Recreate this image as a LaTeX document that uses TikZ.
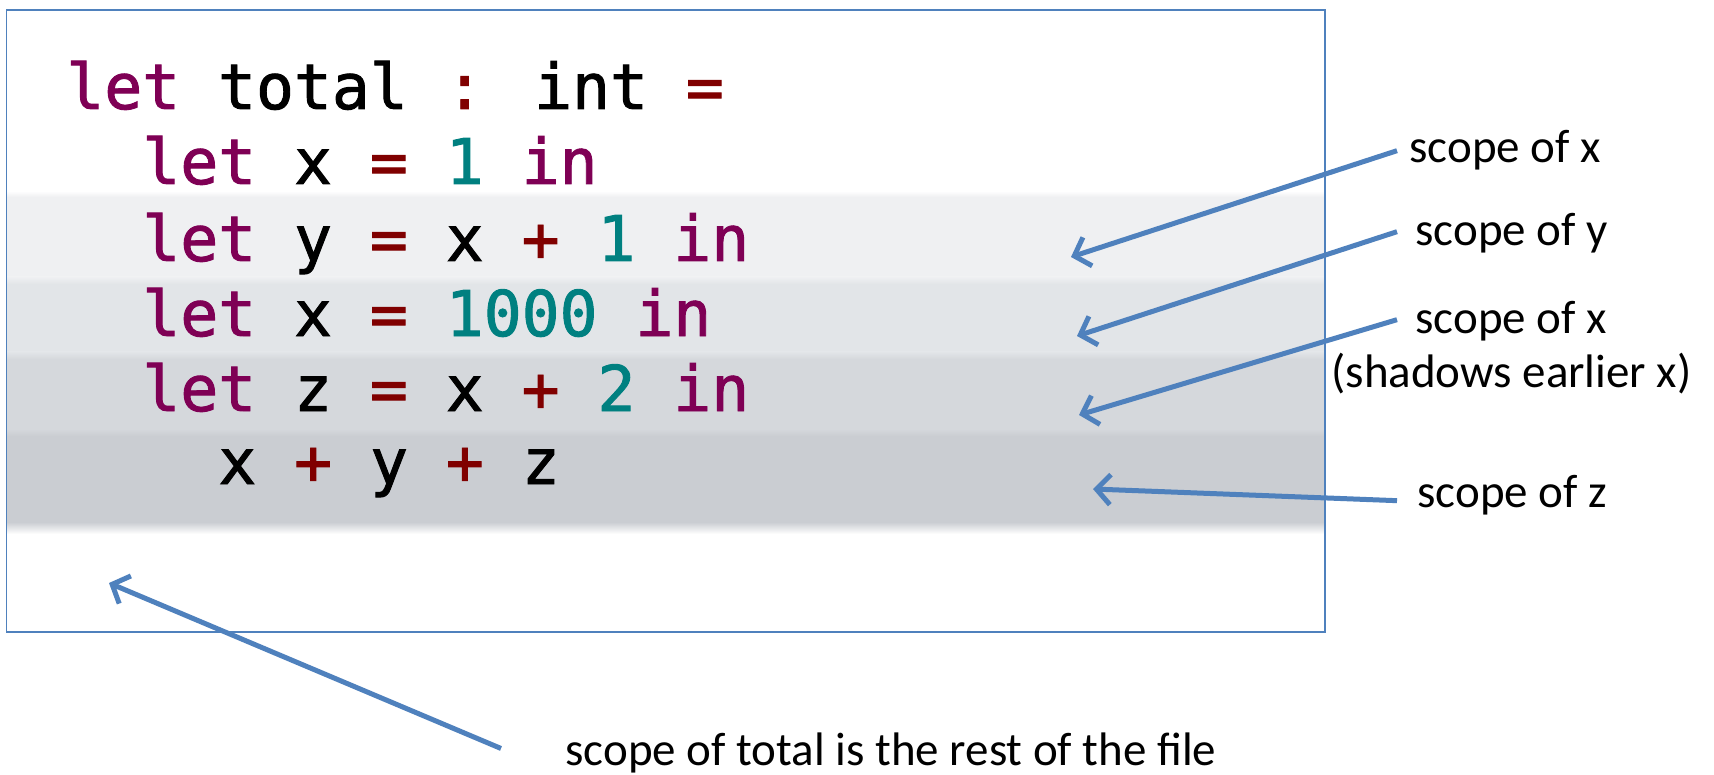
\documentclass[tikz,border=0pt]{standalone}
\usepackage{fontspec}
\setmainfont{Carlito}
\newfontfamily\codefont[FakeBold=1.5]{DejaVu Sans Mono}
\usetikzlibrary{arrows.meta}
\definecolor{kwc}{HTML}{7F0055}
\definecolor{opc}{HTML}{800000}
\definecolor{numc}{HTML}{008080}
\definecolor{arrowblue}{HTML}{4F81BD}
\definecolor{bandA}{HTML}{EFF0F2}
\definecolor{bandB}{HTML}{E2E5E8}
\definecolor{bandC}{HTML}{D5D8DC}
\definecolor{bandD}{HTML}{CACDD2}
\newcommand{\Kw}[1]{\textcolor{kwc}{#1}}
\newcommand{\Op}[1]{\textcolor{opc}{#1}}
\newcommand{\Nm}[1]{\textcolor{numc}{#1}}
\begin{document}
\begin{tikzpicture}[x=0.5pt,y=-0.5pt,
  code/.style={anchor=base west,inner sep=0pt,font=\codefont\fontsize{31.5}{36}\selectfont},
  lab/.style={anchor=base west,inner sep=0pt,font=\fontsize{23.5}{28}\selectfont},
  arr/.style={draw=arrowblue,line width=2.5pt,-{Straight Barb[length=7pt,width=15pt]}}]
\useasboundingbox (0,0) rectangle (1714,775);
\fill[white] (0,0) rectangle (1714,775);
% scope bands
\fill[bandA] (6.5,197) rectangle (1325,282);
\fill[bandB] (6.5,282) rectangle (1325,357);
\fill[bandC] (6.5,357) rectangle (1325,434);
\fill[bandD] (6.5,434) rectangle (1325,522);
\shade[top color=white,bottom color=bandA] (6.5,191) rectangle (1325,197);
\shade[top color=bandA,bottom color=bandB] (6.5,277) rectangle (1325,284);
\shade[top color=bandB,bottom color=bandC] (6.5,352) rectangle (1325,359);
\shade[top color=bandC,bottom color=bandD] (6.5,429) rectangle (1325,436);
\shade[top color=bandD,bottom color=white] (6.5,522) rectangle (1325,534);
% frame
\draw[arrowblue,line width=0.8pt] (6.5,10) rectangle (1325,632);
% code
\node[code] (c1) at (66,109) {\Kw{let} total \Op{:} int \Op{=}};
\node[code] (c2) at (142,184) {\Kw{let} x \Op{=} \Nm{1} \Kw{in}};
\node[code] (c3) at (142,261) {\Kw{let} y \Op{=} x \Op{+} \Nm{1} \Kw{in}};
\node[code] (c4) at (142,336) {\Kw{let} x \Op{=} \Nm{1000} \Kw{in}};
\node[code] (c5) at (142,411) {\Kw{let} z \Op{=} x \Op{+} \Nm{2} \Kw{in}};
\node[code] (c6) at (218,484) {x \Op{+} y \Op{+} z};
% labels
\node[lab] (l1) at (1409,163) {scope of x};
\node[lab] (l2) at (1415,246) {scope of y};
\node[lab] (l3) at (1415,334) {scope of x};
\node[lab] (l3b) at (1331,387) {(shadows earlier x)};
\node[lab] (l4) at (1417,507) {scope of z};
\node[lab] (l5) at (565,765) {scope of total is the rest of the file};
% arrow tips
\coordinate (t1) at (1071,257);
\coordinate (t2) at (1077,336);
\coordinate (t3) at (1079,415);
\coordinate (t4) at (1093,489);
\coordinate (t5) at (109,583);
\draw[arr] ([xshift=-6pt]l1.west) -- (t1);
\draw[arr] ([xshift=-9pt,yshift=1pt]l2.west) -- (t2);
\draw[arr] ([xshift=-9pt,yshift=1pt]l3.west) -- (t3);
\draw[arr] ([xshift=-10pt,yshift=-3pt]l4.west) -- (t4);
\draw[arr] ([xshift=-32pt,yshift=2pt]l5.west) -- (t5);
\end{tikzpicture}
\end{document}
